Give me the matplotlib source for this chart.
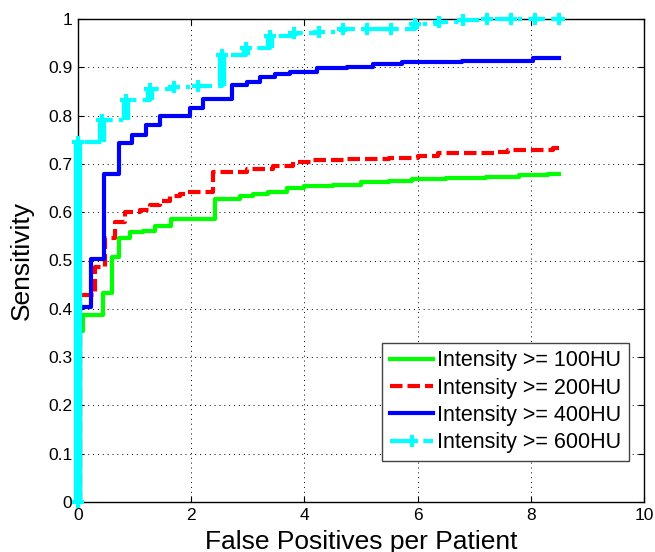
import numpy as np
import matplotlib.pyplot as plt

# FROC curves (step curves)
green_x = [0, 0.03, 0.08, 0.44, 0.6, 0.73, 0.92, 1.15, 1.36, 1.65, 2.42, 2.86, 3.1, 3.36,
           3.69, 4.0, 4.5, 5.0, 5.5, 5.9, 6.5, 7.2, 7.8, 8.3, 8.5]
green_y = [0, 0.355, 0.387, 0.432, 0.508, 0.546, 0.558, 0.562, 0.572, 0.585, 0.627, 0.633, 0.637, 0.642,
           0.651, 0.654, 0.657, 0.662, 0.665, 0.668, 0.670, 0.673, 0.676, 0.679, 0.679]

red_x = [0, 0.03, 0.3, 0.48, 0.65, 0.83, 1.1, 1.27, 1.45, 1.63, 1.8, 1.95, 2.39, 2.98,
         3.45, 3.8, 4.16, 4.7, 5.5, 6.0, 6.36, 7.4, 7.6, 8.4, 8.5]
red_y = [0, 0.428, 0.487, 0.546, 0.58, 0.6, 0.605, 0.614, 0.623, 0.633, 0.638, 0.642, 0.683, 0.69,
         0.695, 0.704, 0.708, 0.71, 0.713, 0.716, 0.722, 0.725, 0.728, 0.733, 0.733]

blue_x = [0, 0.03, 0.23, 0.46, 0.73, 0.95, 1.21, 1.45, 1.98, 2.21, 2.72, 2.98, 3.22, 3.48,
          3.75, 4.22, 4.75, 5.22, 5.73, 6.78, 8.04, 8.5]
blue_y = [0, 0.404, 0.503, 0.679, 0.743, 0.76, 0.781, 0.8, 0.815, 0.834, 0.863, 0.87, 0.879, 0.886,
          0.89, 0.898, 0.9, 0.906, 0.912, 0.914, 0.92, 0.92]

cyan_x = [0, 0, 0.425, 0.85, 1.275, 1.7, 2.125, 2.55, 2.975, 3.4, 3.825, 4.25, 4.675,
          5.1, 5.525, 5.95, 6.375, 6.8, 7.225, 7.65, 8.075, 8.5]
cyan_y = [0, 0.745, 0.79, 0.832, 0.856, 0.86, 0.862, 0.926, 0.939, 0.965, 0.97, 0.973, 0.979,
          0.979, 0.979, 0.99, 0.994, 0.997, 0.999, 1.0, 1.0, 1.0]

labels = ["Intensity >= 100HU", "Intensity >= 200HU", "Intensity >= 400HU", "Intensity >= 600HU"]
xticks = [0, 2, 4, 6, 8, 10]
yticks = [0, 0.1, 0.2, 0.3, 0.4, 0.5, 0.6, 0.7, 0.8, 0.9, 1]
ytick_labels = ["0", "0.1", "0.2", "0.3", "0.4", "0.5", "0.6", "0.7", "0.8", "0.9", "1"]

plt.rcParams['font.family'] = ['Liberation Sans', 'DejaVu Sans']

fig = plt.figure(figsize=(6.55, 5.52), dpi=100)
ax = fig.add_axes([78 / 655, 50 / 552, 566 / 655, 483 / 552])

ax.plot(green_x, green_y, color=(0, 1, 0), lw=3, drawstyle='steps-post', label=labels[0])
ax.plot(red_x, red_y, color=(1, 0, 0), lw=3, ls=(0, (3, 1.2)), drawstyle='steps-post', label=labels[1])
ax.plot(blue_x, blue_y, color=(0, 0, 1), lw=3, drawstyle='steps-post', label=labels[2])

# cyan: thick risers plus dash-dot line with + markers
cx = np.array(cyan_x)
cy = np.array(cyan_y)
ax.vlines(cx[1:], cy[:-1], cy[1:], color=(0, 1, 1), lw=6, clip_on=False, zorder=3)
ax.plot(cyan_x, cyan_y, color=(0, 1, 1), lw=3, ls=(0, (4, 1.5, 1, 1.5)), drawstyle='steps-post',
        marker='+', ms=9, mew=3, label=labels[3], clip_on=False, zorder=3)

ax.set_xlim(0, 10)
ax.set_ylim(0, 1)
ax.set_xticks(xticks)
ax.set_yticks(yticks)
ax.set_yticklabels(ytick_labels)
ax.tick_params(direction='in', length=4, top=True, right=True, labelsize=12.5, pad=4)
ax.grid(True, color='k', ls=(0, (1, 4)), lw=0.7)
for s in ax.spines.values():
    s.set_linewidth(1)

ax.set_xlabel("False Positives per Patient", fontsize=19, labelpad=5)
ax.set_ylabel("Sensitivity", fontsize=19, labelpad=10)

leg = ax.legend(loc='lower right', bbox_to_anchor=(0.9735, 0.0849), borderaxespad=0,
                fancybox=False, edgecolor='#444444', framealpha=1, numpoints=1,
                handlelength=2, labelspacing=0.3, fontsize=15.5, borderpad=0.35, handletextpad=0.2)
leg.get_frame().set_linewidth(1)

fig.savefig("out.png", dpi=100)
